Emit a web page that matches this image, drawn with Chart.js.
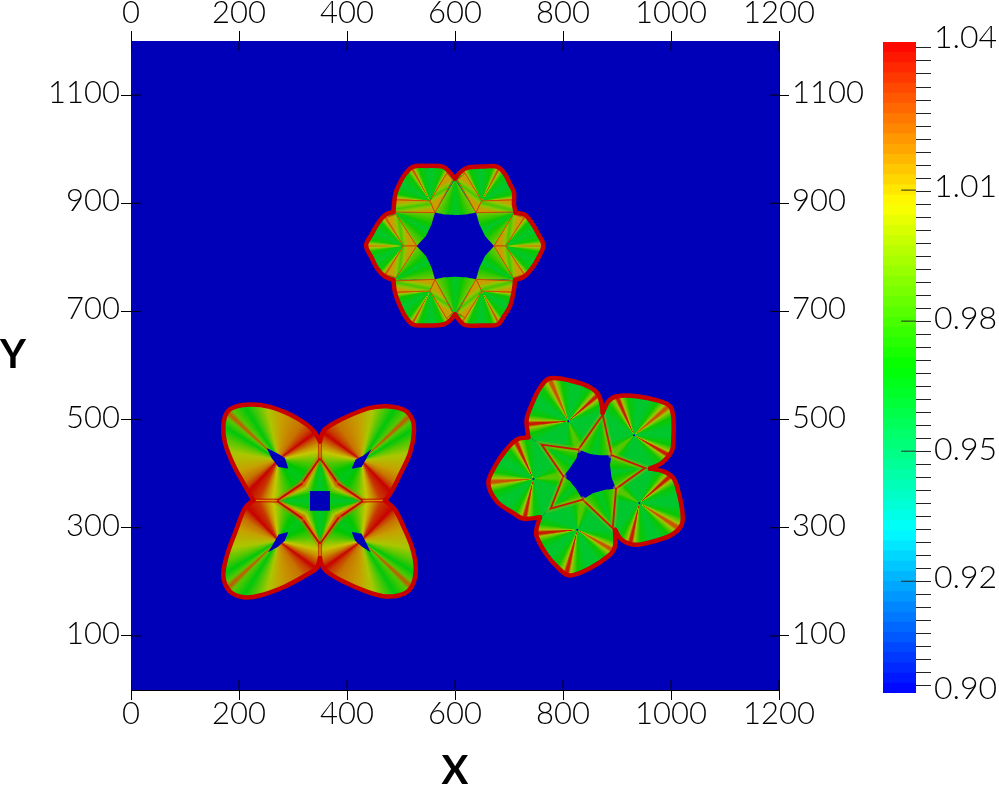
<!DOCTYPE html>
<html>
<head>
<meta charset="utf-8">
<style>
  body { margin: 0; background: #fff; }
  #plot { position: absolute; left: 0; top: 0; }
  #bar { position: absolute; left: 860px; top: 0; }
</style>
<script src="https://cdn.jsdelivr.net/npm/chart.js@4/dist/chart.umd.min.js"></script>
</head>
<body>
<canvas id="plot" width="999" height="786"></canvas>
<canvas id="bar" width="139" height="786"></canvas>
<script>
const xTicks = [0, 200, 400, 600, 800, 1000, 1200];
const yTicks = [100, 300, 500, 700, 900, 1100];
const barLabels = ['1.04', '1.01', '0.98', '0.95', '0.92', '0.90'];
const barLabelValues = [1.0409, 1.0088, 0.9806, 0.9524, 0.9247, 0.901];
const barLongTicks = [0.92403, 0.952, 0.97997, 1.00815];

// colour map of the bar: value -> rgb
const mapValues = [0.9, 0.935, 0.97, 1.005, 1.04];
const mapColors = [[0, 0, 255], [0, 255, 255], [0, 255, 0], [255, 255, 0], [255, 0, 0]];

// six lobed ring (top middle)
const ringOutlines = [
  [[600,945.7],[610.5,958],[621.7,965.4],[652.5,967.9],[679.1,967.3],[692.6,953.7],[701.9,935.2],[709.3,919.7],[709.3,898.1],[712.4,882.7]],
  [[712.4,882.7],[729.7,878.4],[743.9,861.1],[754.4,842.6],[763.6,822.2],[754.4,799.4],[742,779],[727.8,764.2],[711.2,758]],
  [[711.2,758],[709.3,740.7],[701.9,709.9],[690.8,691.3],[679.1,675.9],[652.5,674.1],[618.6,674.7],[609.3,682.1],[600,694.4]],
  [[600,694.4],[589.6,682.1],[578.4,675.9],[547.6,674.1],[521.6,675.9],[507.5,691.3],[498.2,709.9],[489,734.6],[485.9,758]],
  [[485.9,758],[470.4,764.2],[456.2,779],[445.7,799.4],[435.2,822.2],[445.7,842.6],[456.2,861.1],[470.4,878.4],[485.9,883.9]],
  [[485.9,883.9],[487.1,898.1],[490.2,919.7],[498.2,938.3],[507.5,953.7],[521.6,967.3],[547.6,969.1],[578.4,967.3],[589.6,958],[600,945.7]]
];
const ringInner = [[[639,882.7]], [[672.3,821]], [[639,760.5]], [[563,760.5]], [[529,821]], [[563,882.7]]];
const ringCenters = [[649.4,904.3],[692.6,821],[649.4,737.6],[553.8,737.6],[504.4,821],[553.8,904.3]];
const ringRidges = [[238,298,358],[304,360,416],[2,62,122],[58,118.6,178],[123,180,237],[182,241,302]];
const ringPeaks = [[1.02,1.025,1.02],[1.02,1.015,1.02],[1.02,1.025,1.02],[1.02,1.025,1.02],[1.02,1.015,1.02],[1.02,1.025,1.02]];
const ringStrips = [
  [[604.4,943.2],[618.6,955.6],[649.4,904.3],[639,882.7]],
  [[639,882.7],[649.4,904.3],[709.9,906.2],[709.3,884]],
  [[708,879.6],[727.8,873.5],[693.9,821],[672.3,821]],
  [[672.3,821],[693.9,821],[727.8,768.5],[708,762.3]],
  [[639,759.3],[649.4,737.6],[709.9,735.8],[709.3,756.2]],
  [[604.4,697.5],[618.6,688.3],[649.4,737.6],[639,759.3]],
  [[563,759.3],[553.8,737.6],[489,735.8],[487.7,756.2]],
  [[595.7,697.5],[584.6,687],[553.8,737.6],[563,759.3]],
  [[490.8,879.6],[472.3,873.5],[504.4,821],[529,821]],
  [[529,821],[504.4,821],[472.3,768.5],[490.8,762.3]],
  [[563,882.7],[553.8,904.3],[490.2,906.2],[487.7,884]],
  [[595.7,943.2],[584.6,955.6],[553.8,904.3],[563,882.7]]
];
const ringWedges = [
  [[600,944.4],[639,882.7],[619.8,879],[600,877.8],[580.3,879],[563,882.7]],
  [[712.4,882.7],[639,882.7],[645.1,861.1],[655.6,839.5],[672.3,821]],
  [[711.2,758],[672.3,821],[655.6,802.5],[645.1,780.9],[639,759.3]],
  [[600,694.4],[639,759.3],[619.8,763],[600,764.2],[580.3,763],[563,759.3]],
  [[485.9,758],[563,759.3],[556.8,780.9],[546.3,802.5],[529,821]],
  [[485.9,883.9],[529,821],[546.3,839.5],[556.8,861.1],[563,882.7]]
];

// five lobed ring (right)
const fiveOutlines = [
  [[735.8,467.3],[732.7,500],[742,527.8],[757.4,558.7],[774.7,576],[813,572.3],[850,559.9],[865.4,546.3],[871.6,527.8],[873.5,512.4]],
  [[873.5,512.4],[884,534],[899.4,543.3],[936.4,543.3],[976.5,535.2],[998.2,524.7],[1004.3,503.1],[1004.3,463],[1001.3,441.4],[982.7,419.8],[961.1,409.3]],
  [[961.1,409.3],[985.8,404.4],[1004.3,392],[1013.6,367.3],[1021,330.3],[1019.8,305.6],[1001.3,287],[967.3,274.7],[933.4,268.5],[908.7,277.8],[896.3,296.3]],
  [[896.3,296.3],[896.3,265.5],[887,250],[850,225.3],[811.7,211.8],[791.4,225.3],[769.8,250],[751.2,284],[751.2,299.4],[757.4,319.2]],
  [[757.4,319.2],[726.5,316.7],[708,327.2],[677.2,348.8],[661.7,382.8],[674,413.6],[692.6,441.4],[714.2,463],[735.8,467.3]]
];
const fiveInner = [
  [[873.5,509.3],[828.4,444.5],[760.5,453.7]],
  [[951.9,410.5],[890.1,434],[873.5,509.3]],
  [[892,299.4],[898.2,372.3],[951.9,410.5]],
  [[777.2,335.2],[836.4,351.9],[892,299.4]],
  [[760.5,453.7],[800.6,395.1],[777.2,335.2]]
];
const fiveCenters = [[809.9,497],[931.5,471],[941.4,345.7],[826.6,296.3],[745.1,390.2]];
const fiveRidges = [[70,176,246,318.6],[30,139.5,246,320],[32.7,102.7,212,319],[30,104,175,280],[102.6,176,245,354]];
const fivePeaks = [[0.985,1.035,1.025,1.035],[1.035,0.985,1.035,1.025],[1.025,1.035,0.985,1.035],[1.025,1.035,1.035,0.985],[1.035,1.025,1.035,0.985]];
const fiveWedges = [
  [[873.5,509.3],[828.4,444.5],[850,436.5],[871.6,434],[890.1,434]],
  [[951.9,410.5],[890.1,434],[887,416.7],[890.1,392],[898.2,372.3]],
  [[892,299.4],[898.2,372.3],[877.8,370.4],[856.2,364.2],[836.4,351.9]],
  [[777.2,335.2],[836.4,351.9],[825.3,370.4],[813,385.8],[800.6,395.1]],
  [[760.5,453.7],[800.6,395.1],[813,410.5],[825.3,429],[828.4,444.5]]
];

// four lobed flower (left)
const flowerOutlines = [
  [[226.6,350.7],[208,382.8],[189.5,416.7],[174.1,456.8],[171,487.7],[177.2,512.4],[192.6,523.5],[223.5,527.8],[257.4,523.5],[294.5,509.3],[325.3,490.8],[340.8,475.4],[350,459.9]],
  [[350,459.9],[356.2,478.4],[371.6,490.8],[408.7,509.3],[442.6,521.6],[473.5,524.7],[504.3,518.6],[519.8,503.1],[524.1,478.4],[516.7,438.3],[498.2,398.2],[482.7,367.3],[470.4,350.7]],
  [[470.4,350.7],[488.9,333.4],[504.3,302.5],[519.8,265.5],[527.2,228.4],[522.9,197.6],[507.4,179],[473.5,172.9],[436.4,182.1],[393.2,200.6],[362.4,219.2],[353.1,231.5],[350,243.9]],
  [[350,243.9],[343.8,225.3],[325.3,213],[285.2,191.4],[238.9,174.7],[208,171.6],[183.3,182.1],[171,209.9],[177.2,246.9],[192.6,290.2],[211.1,336.5],[226.6,350.7]]
];
const flowerInner = [
  [[350,429],[331.5,367.3],[269.8,350]],
  [[430.3,350],[368.5,367.3],[350,429]],
  [[350,269.8],[368.5,332.1],[430.3,350]],
  [[269.8,350],[331.5,332.1],[350,269.8]]
];
const flowerCenters = [[272.9,426],[427.2,424.1],[427.2,276],[272.9,276]];
// first ridge angle and turning direction of every petal
const flowerStart = [133.5, 46.5, 313.5, 226.5];
const flowerTurn = [1, -1, 1, -1];
// turn from the side ridge, value
const petalProfile = [[0,1.04],[5,1.03],[14,1.02],[30,1.012],[55,1.0],[68,0.985],[78,0.968],[85.5,0.985],[89.5,1.025],[93.5,0.985],[104,0.968],[124,1.0],[140,1.012],[170,1.02],[183,1.03],[190.5,1.04],[195,1.03],[205,1.015],[214,1.005],[231,0.985],[250,0.97],[269,0.965],[288,0.97],[307,0.985],[324,1.005],[333,1.015],[343,1.03],[360,1.04]];
const flowerWedges = [
  [[350,429],[384,380.9],[368.5,367.3],[331.5,367.3],[316.1,380.9]],
  [[430.3,350],[384,380.9],[368.5,367.3],[368.5,332.1],[384,317.9]],
  [[350,269.8],[384,317.9],[368.5,332.1],[331.5,332.1],[316.1,317.9]],
  [[269.8,350],[316.1,380.9],[331.5,367.3],[331.5,332.1],[316.1,317.9]]
];
const flowerSeams = [
  [[226.6,350.7],[269.8,350]],
  [[350,459.9],[350,429]],
  [[470.4,350.7],[430.3,350]],
  [[350,243.9],[350,269.8]]
];
const flowerHoles = [
  [[251.2,447.6],[269.8,438.3],[285.2,429],[291.4,409.3],[272.9,412.4],[260.5,429]],
  [[445.7,445.7],[430.3,433.4],[416,426],[408.7,409.3],[427.2,412.4],[436.4,429]],
  [[408.7,292],[427.2,288.9],[436.4,270.4],[443.8,255],[427.2,265.5],[414.8,276.6]],
  [[291.4,292],[272.9,287],[263.6,270.4],[254.3,255],[272.9,265.5],[285.2,276.6]],
  [[331.5,367.3],[368.5,367.3],[368.5,332.1],[331.5,332.1]]
];

const BG_BLUE = '#0000b9';
const RED_EDGE = '#c80000';
const SHADE = 0.78;
const BASE = 0.962;

const valueColor = function(v, shade = 1) {
    let i = 0;
    while (i < mapValues.length - 2 && v > mapValues[i + 1]) i++;
    let t = (v - mapValues[i]) / (mapValues[i + 1] - mapValues[i]);
    t = Math.min(1, Math.max(0, t));
    const c = mapColors[i].map((a, k) => Math.round((a + (mapColors[i + 1][k] - a) * t) * shade));
    return `rgb(${c[0]},${c[1]},${c[2]})`;
};

const toPoints = pts => pts.map(p => ({ x: p[0], y: p[1] }));
const closed = pts => toPoints(pts.concat([pts[0]]));

// the scales have no pixels yet on the very first option pass
const scalesReady = c => c.chart.chartArea && Number.isFinite(c.chart.scales.x.getPixelForValue(0));

// conic gradient round a data point, stops are [angle in degrees, value]
const conicFill = function(center, stops) {
    return function(c) {
        if (!scalesReady(c)) return BG_BLUE;
        const { ctx, scales } = c.chart;
        const sorted = stops.slice().sort((a, b) => a[0] - b[0]);
        const start = sorted[0][0];
        const g = ctx.createConicGradient(start * Math.PI / 180,
            scales.x.getPixelForValue(center[0]), scales.y.getPixelForValue(center[1]));
        sorted.forEach(s => g.addColorStop(Math.min(1, (s[0] - start) / 360), valueColor(s[1], SHADE)));
        return g;
    };
};

const fanStops = function(angles, peaks, s1, s2, s3) {
    const out = [];
    angles.forEach((a, i) => {
        const p = peaks[i];
        out.push([a - 28, BASE], [a - s3, 0.972], [a - s2, Math.min(p, 0.998)], [a - s1, p],
                 [a + s1, p], [a + s2, Math.min(p, 0.998)], [a + s3, 0.972], [a + 28, BASE]);
    });
    return out;
};

const wedgeFill = function(poly, peak) {
    return function(c) {
        if (!scalesReady(c)) return BG_BLUE;
        const { x, y } = c.chart.scales;
        const ang = p => Math.atan2(y.getPixelForValue(p[1]) - y.getPixelForValue(poly[0][1]),
                                    x.getPixelForValue(p[0]) - x.getPixelForValue(poly[0][0])) * 180 / Math.PI;
        let a1 = ang(poly[1]);
        let a2 = ang(poly[poly.length - 1]);
        let d = a2 - a1;
        while (d > 180) d -= 360;
        while (d < -180) d += 360;
        if (d < 0) { a1 = a1 + d; d = -d; }
        const mid = (peak + 0.975) / 2;
        return conicFill(poly[0], [[a1 - 6, peak], [a1, peak], [a1 + d * 0.14, mid], [a1 + d * 0.32, 0.972], [a1 + d * 0.5, BASE],
            [a1 + d * 0.68, 0.972], [a1 + d * 0.86, mid], [a1 + d, peak], [a1 + d + 6, peak]])(c);
    };
};

// linear gradient across a strip, from one long side to the other
const stripFill = function(s) {
    return function(c) {
        if (!scalesReady(c)) return BG_BLUE;
        const { ctx, scales } = c.chart;
        const px = p => [scales.x.getPixelForValue(p[0]), scales.y.getPixelForValue(p[1])];
        const a = px(s[0]), b = px(s[1]), cc = px(s[2]), d = px(s[3]);
        const g = ctx.createLinearGradient((a[0] + d[0]) / 2, (a[1] + d[1]) / 2, (b[0] + cc[0]) / 2, (b[1] + cc[1]) / 2);
        g.addColorStop(0, valueColor(1.012, SHADE));
        g.addColorStop(0.25, valueColor(0.995, SHADE));
        g.addColorStop(0.5, valueColor(0.982, SHADE));
        g.addColorStop(0.75, valueColor(0.995, SHADE));
        g.addColorStop(1, valueColor(1.012, SHADE));
        return g;
    };
};

const datasets = [];
const add = function(data, style) {
    datasets.push(Object.assign({
        data: data, showLine: true, pointRadius: 0, tension: 0.0001, fill: false, borderWidth: 0,
        order: 100000 - datasets.length
    }, style));
};
const addPolygon = (pts, color, style) => add(closed(pts), Object.assign({ fill: 'shape', backgroundColor: color }, style));
const addRidge = function(pts, red, halo, w) {
    add(toPoints(pts), { borderWidth: w * 3.5, borderColor: halo, borderCapStyle: 'round' });
    add(toPoints(pts), { borderWidth: w, borderColor: red, borderCapStyle: 'round' });
};
const addEdge = o => add(toPoints(o), { borderWidth: 4.5, borderColor: RED_EDGE, tension: 0.35, borderCapStyle: 'round' });

addPolygon([[0,0],[1200,0],[1200,1200],[0,1200]], BG_BLUE);

// ring
ringOutlines.forEach((o, i) => addPolygon(o.concat(ringInner[i]), conicFill(ringCenters[i], fanStops(ringRidges[i], ringPeaks[i], 0.8, 3, 10))));
ringWedges.forEach(w => addPolygon(w, wedgeFill(w, 0.99)));
ringStrips.forEach(s => addPolygon(s, stripFill(s), { borderWidth: 1, borderColor: '#d04800' }));
ringOutlines.forEach(addEdge);

// five lobes
fiveOutlines.forEach((o, i) => addPolygon(o.concat(fiveInner[i]), conicFill(fiveCenters[i], fanStops(fiveRidges[i], fivePeaks[i], 1.5, 5, 14))));
fiveWedges.forEach(w => addPolygon(w, wedgeFill(w, 0.985)));
fiveWedges.forEach(w => addRidge([w[1], w[0], w[w.length - 1]], '#c81800', 'rgba(210,170,0,0.3)', 1.8));
fiveOutlines.forEach(addEdge);
add(toPoints(fiveCenters), { showLine: false, pointRadius: 1, pointBackgroundColor: '#0000e0', pointBorderWidth: 0 });

// flower
flowerOutlines.forEach((o, i) => {
    const stops = petalProfile.map(p => [flowerStart[i] + flowerTurn[i] * p[0], p[1]]);
    addPolygon(o.concat(flowerInner[i]), conicFill(flowerCenters[i], stops));
});
flowerWedges.forEach(w => addPolygon(w, wedgeFill(w, 1.03)));
flowerWedges.forEach(w => addRidge([w[1], w[0], w[w.length - 1]], '#c80a00', 'rgba(210,110,0,0.45)', 2));
flowerSeams.forEach(s => addRidge(s, '#d89000', 'rgba(200,0,0,0.6)', 1.2));
flowerHoles.forEach(h => addPolygon(h, BG_BLUE));
flowerOutlines.forEach(addEdge);

// the tick marks also reach into the plot
const inX = [], inY = [];
xTicks.forEach(v => inX.push({ x: v, y: 0 }, { x: v, y: 18.5 }, { x: null, y: null }, { x: v, y: 1200 }, { x: v, y: 1181.5 }, { x: null, y: null }));
yTicks.forEach(v => inY.push({ x: 0, y: v }, { x: 18.5, y: v }, { x: null, y: null }, { x: 1200, y: v }, { x: 1181.5, y: v }, { x: null, y: null }));
add(inX, { borderWidth: 1, borderColor: '#000' });
add(inY, { borderWidth: 1, borderColor: '#000' });

const tickFont = { family: 'Lato', size: 31, weight: '300' };
const axis = function(extra, size) {
    return Object.assign({
        type: 'linear', min: 0, max: 1200,
        grid: { drawOnChartArea: false, drawTicks: true, tickLength: 10, color: '#000' },
        border: { display: true, color: '#000' },
        afterFit: s => { if (s.isHorizontal()) s.height = size; else s.width = size; }
    }, extra);
};
const axisTicks = (padding, labelOffset) => ({
    display: true, font: tickFont, color: '#000', padding: padding, labelOffset: labelOffset,
    autoSkip: false, maxRotation: 0, callback: v => v
});
const useX = s => { s.ticks = xTicks.map(v => ({ value: v })); };
const useY = s => { s.ticks = yTicks.map(v => ({ value: v })); };

const yTitlePlugin = {
    id: 'yTitle',
    afterDraw(chart) {
        const c = chart.ctx;
        c.save();
        c.font = 'bold 40px Lato';
        c.fillStyle = '#000';
        c.textAlign = 'center';
        c.textBaseline = 'middle';
        c.fillText('Y', 13, 355);
        c.restore();
    }
};

new Chart(document.getElementById('plot'), {
    type: 'scatter',
    data: { datasets: datasets },
    plugins: [yTitlePlugin],
    options: {
        responsive: false, animation: false, events: [],
        layout: { padding: 0 },
        plugins: { legend: { display: false }, tooltip: { enabled: false } },
        scales: {
            x: axis({ position: 'bottom', ticks: axisTicks(-5, 0), afterBuildTicks: useX,
                title: { display: true, text: 'X', color: '#000', font: { family: 'Lato', size: 40, weight: 'bold' }, padding: { top: 0, bottom: -9 } } }, 96),
            x2: axis({ axis: 'x', position: 'top', ticks: axisTicks(-1, 0), afterBuildTicks: useX }, 41),
            y: axis({ position: 'left', ticks: axisTicks(1, -2), afterBuildTicks: useY }, 131),
            y2: axis({ axis: 'y', position: 'right', ticks: axisTicks(3, -2), afterBuildTicks: useY }, 220)
        }
    }
});

// colour bar
const BAND_COUNT = 64;
const MINOR_START = 0.90166, MINOR_STEP = 0.002797, MINOR_COUNT = 50;
const barSets = [];
for (let i = 0; i < BAND_COUNT; i++) {
    const lo = 0.9 + (1.04 - 0.9) * i / BAND_COUNT;
    const mid = lo + (1.04 - 0.9) / BAND_COUNT / 2;
    barSets.push({
        data: closed([[0, lo], [1, lo], [1, 1.04], [0, 1.04]]), showLine: true, pointRadius: 0, tension: 0.0001,
        fill: 'shape', borderWidth: 0, backgroundColor: valueColor(mid), order: 1000 - i
    });
}
const longTickData = [];
barLongTicks.forEach(v => longTickData.push({ x: 0.55, y: v }, { x: 1, y: v }, { x: null, y: null }));
barSets.push({ data: longTickData, showLine: true, pointRadius: 0, tension: 0.0001, fill: false, borderWidth: 1, borderColor: '#222', order: 0 });

new Chart(document.getElementById('bar'), {
    type: 'scatter',
    data: { datasets: barSets },
    options: {
        responsive: false, animation: false, events: [],
        layout: { padding: { left: 23, top: 42, bottom: 93, right: 0 } },
        plugins: { legend: { display: false }, tooltip: { enabled: false } },
        scales: {
            x: { type: 'linear', min: 0, max: 1, display: false },
            y: {
                type: 'linear', position: 'right', min: 0.9, max: 1.04,
                border: { display: false },
                grid: {
                    drawOnChartArea: false, tickLength: 15,
                    tickColor: c => (c.tick && c.tick.label) ? 'rgba(0,0,0,0)' : '#222'
                },
                ticks: { font: { family: 'Lato', size: 32, weight: '300' }, color: '#000', padding: 3, autoSkip: false, maxRotation: 0,
                    callback: v => { const i = barLabelValues.indexOf(v); return i >= 0 ? barLabels[i] : ''; } },
                afterBuildTicks: s => {
                    const t = [];
                    for (let k = 0; k < MINOR_COUNT; k++) t.push({ value: MINOR_START + MINOR_STEP * k });
                    barLabelValues.forEach(v => t.push({ value: v }));
                    s.ticks = t;
                },
                afterFit: s => { s.width = 83; }
            }
        }
    }
});
</script>
</body>
</html>
